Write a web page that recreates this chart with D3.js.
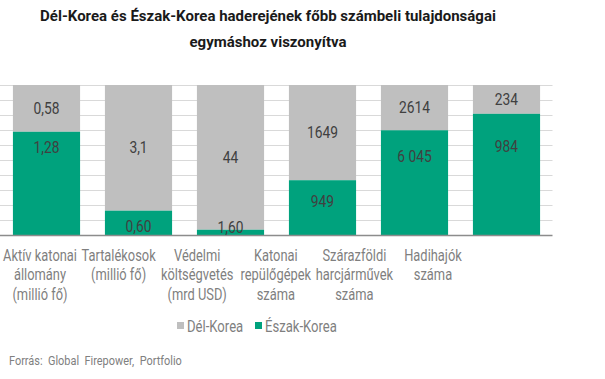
<!DOCTYPE html>
<html>
<head>
<meta charset="utf-8">
<script src="https://cdn.jsdelivr.net/npm/d3@7"></script>
<style>
  body { margin: 0; background: #fff; }
  svg { display: block; font-family: Roboto, "Noto Sans", sans-serif; }
</style>
</head>
<body>
<svg id="chart" width="605" height="379"></svg>
<script>
const titleLines = ["Dél-Korea és Észak-Korea haderejének főbb számbeli tulajdonságai", "egymáshoz viszonyítva"];

const categories = [
  ["Aktív katonai", "állomány", "(millió fő)"],
  ["Tartalékosok", "(millió fő)"],
  ["Védelmi", "költségvetés", "(mrd USD)"],
  ["Katonai", "repülőgépek", "száma"],
  ["Szárazföldi", "harcjárművek", "száma"],
  ["Hadihajók", "száma"]
];

const southKorea = [0.58, 3.1, 44, 1649, 2614, 234];
const northKorea = [1.28, 0.60, 1.60, 949, 6045, 984];
const southLabels = ["0,58", "3,1", "44", "1649", "2614", "234"];
const northLabels = ["1,28", "0,60", "1,60", "949", "6 045", "984"];

const seriesNames = ["Dél-Korea", "Észak-Korea"];
const colors = { south: "#bfbfbf", north: "#00a27d" };

const source = "Forrás: Global Firepower, Portfolio";

// the green labels are nudged by hand in the original
const northLabelDy = [16, 16, -2, 21, 26, 33];

const box = { left: 0.5, right: 552.5, top: 85, bottom: 235 };

const svg = d3.select('#chart');

// the original text is narrow, squeeze it horizontally around its anchor
function squeeze(sel, sx) {
  sel.each(function () {
    const ax = +d3.select(this).attr('x');
    d3.select(this).attr('transform', `translate(${ax},0) scale(${sx},1) translate(${-ax},0)`);
  });
}
function widthOf(sel) {
  return sel.node().getComputedTextLength();
}

// shares of the two series (100% stacked)
const rows = categories.map((c, i) => {
  const total = southKorea[i] + northKorea[i];
  return { i, north: northKorea[i] / total, south: southKorea[i] / total };
});

const x = d3.scaleBand()
  .domain(d3.range(categories.length))
  .range([box.left, box.right])
  .paddingInner(0.27).paddingOuter(0.135);

const labelX = d3.scalePoint()
  .domain(d3.range(categories.length))
  .range([40, 433]);

const y = d3.scaleLinear().domain([0, 1]).range([box.bottom, box.top]);

// title
const title = svg.append('g').selectAll('text')
  .data(titleLines).enter()
  .append('text')
  .attr('x', 268).attr('y', (d, i) => 21 + i * 26)
  .style('text-anchor', 'middle')
  .style('font-size', '15px').style('font-weight', 'bold')
  .style('fill', '#1a1a1a')
  .text(d => d);
squeeze(title, 456 / widthOf(title.filter((d, i) => i === 0)));

// gridlines
svg.append('g').selectAll('line')
  .data(y.ticks(10).filter(t => t > 0)).enter()
  .append('line')
  .attr('x1', 0).attr('x2', box.right)
  .attr('y1', d => Math.round(y(d)) + 0.5).attr('y2', d => Math.round(y(d)) + 0.5)
  .style('stroke', '#d9d9d9');

// bars
const bars = svg.append('g');
bars.selectAll('.south')
  .data(rows).enter()
  .append('rect')
  .attr('x', d => x(d.i)).attr('width', x.bandwidth())
  .attr('y', y(1)).attr('height', d => y(d.north) - y(1))
  .style('fill', colors.south);

bars.selectAll('.north')
  .data(rows).enter()
  .append('rect')
  .attr('x', d => x(d.i)).attr('width', x.bandwidth())
  .attr('y', d => y(d.north)).attr('height', d => y(0) - y(d.north))
  .style('fill', colors.north);

// baseline
svg.append('line')
  .attr('x1', 0).attr('x2', box.right)
  .attr('y1', box.bottom + 0.5).attr('y2', box.bottom + 0.5)
  .style('stroke', '#8c8c8c').style('stroke-width', 1.5);

// value labels
const southText = svg.append('g').selectAll('text')
  .data(rows).enter()
  .append('text')
  .attr('x', d => x(d.i) + x.bandwidth() / 2)
  .attr('y', d => (y(1) + y(d.north)) / 2)
  .attr('dy', '0.35em')
  .style('text-anchor', 'middle').style('font-size', '16px').style('fill', '#404040')
  .text(d => southLabels[d.i]);

const northText = svg.append('g').selectAll('text')
  .data(rows).enter()
  .append('text')
  .attr('x', d => x(d.i) + x.bandwidth() / 2)
  .attr('y', d => y(d.north) + northLabelDy[d.i])
  .attr('dy', '0.35em')
  .style('text-anchor', 'middle').style('font-size', '16px').style('fill', '#404040')
  .text(d => northLabels[d.i]);

const valueSx = 31 / widthOf(southText.filter(d => d.i === 3));
squeeze(southText, valueSx);
squeeze(northText, valueSx);

// category labels
const cat = svg.append('g').selectAll('text')
  .data(categories).enter()
  .append('text')
  .attr('x', (d, i) => labelX(i))
  .attr('y', 255)
  .style('text-anchor', 'middle').style('font-size', '16px').style('fill', '#7f7f7f');
cat.selectAll('tspan')
  .data(d => d).enter()
  .append('tspan')
  .attr('x', function () { return d3.select(this.parentNode).attr('x'); })
  .attr('dy', (d, i) => i === 0 ? '0.35em' : '19.5px')
  .text(d => d);
const catSx = 74 / cat.filter((d, i) => i === 0).select('tspan').node().getComputedTextLength();
squeeze(cat, catSx);

// legend
const legend = svg.append('g');
const legendItems = [
  { name: seriesNames[0], color: colors.south, x: 177 },
  { name: seriesNames[1], color: colors.north, x: 255 }
];
legend.selectAll('rect')
  .data(legendItems).enter()
  .append('rect')
  .attr('x', d => d.x).attr('y', 322).attr('width', 7).attr('height', 7)
  .style('fill', d => d.color);
const legendText = legend.selectAll('text')
  .data(legendItems).enter()
  .append('text')
  .attr('x', d => d.x + 10).attr('y', 326).attr('dy', '0.35em')
  .style('font-size', '16px').style('fill', '#7f7f7f')
  .text(d => d.name);
squeeze(legendText, 72 / widthOf(legendText.filter((d, i) => i === 1)));

// source
const sourceText = svg.append('text')
  .attr('x', 9).attr('y', 361).attr('dy', '0.35em')
  .style('font-size', '12px').style('fill', '#808080')
  .style('word-spacing', '3px')
  .text(source);
squeeze(sourceText, 173 / widthOf(sourceText));
</script>
</body>
</html>
